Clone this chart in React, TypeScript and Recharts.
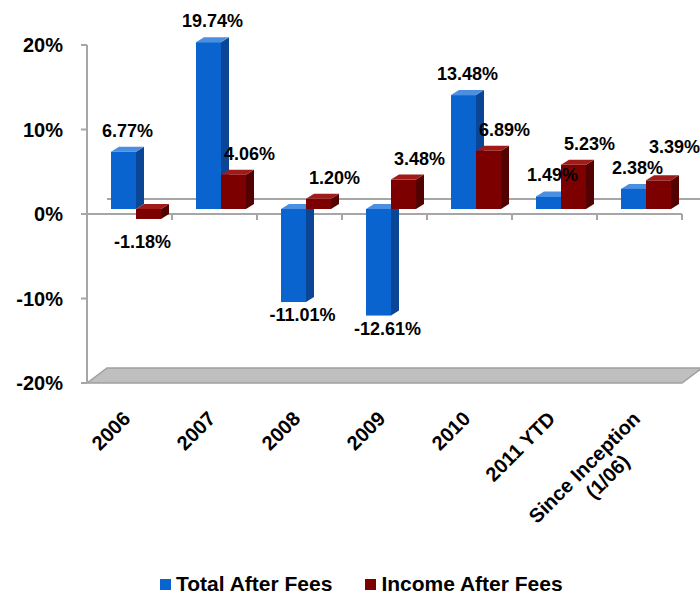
import { BarChart, Bar, XAxis, YAxis, ReferenceArea, LabelList, Legend } from "recharts";

const categories = ["2006", "2007", "2008", "2009", "2010", "2011 YTD", "Since Inception\n(1/06)"];
const totalAfterFees = [6.77, 19.74, -11.01, -12.61, 13.48, 1.49, 2.38];
const incomeAfterFees = [-1.18, 4.06, 1.2, 3.48, 6.89, 5.23, 3.39];
const yTicks = [-20, -10, 0, 10, 20];

const data = categories.map((name, i) => ({
  name,
  total: totalAfterFees[i],
  income: incomeAfterFees[i],
}));

const FONT = "'Liberation Sans', Arial, sans-serif";
const GRID = "#a6a6a6";

// depth of the box and the offset of the bar row inside it
const DEPTH_X = 20;
const DEPTH_Y = -15;
const BAR_DX = 6;
const BAR_DY = -5;
const SIDE_X = 8;
const SIDE_Y = -5;
const LABEL_UP = 20;

const BLUE = { front: "#0a64d0", top: "#4a8fe2", side: "#0a4596" };
const RED = { front: "#7d0000", top: "#a11b1b", side: "#520000" };

function makeBar3D(c: { front: string; top: string; side: string }) {
  return (props: any) => {
    const { x, y, width, height } = props;
    if (x == null || y == null) return null;
    const top = Math.min(y, y + height) + BAR_DY;
    const h = Math.abs(height);
    const left = x + BAR_DX;
    const right = left + width;
    const bottom = top + h;
    return (
      <g>
        <polygon
          points={`${right},${top} ${right + SIDE_X},${top + SIDE_Y} ${right + SIDE_X},${bottom + SIDE_Y} ${right},${bottom}`}
          fill={c.side}
        />
        <polygon
          points={`${left},${top} ${left + SIDE_X},${top + SIDE_Y} ${right + SIDE_X},${top + SIDE_Y} ${right},${top}`}
          fill={c.top}
        />
        <rect x={left} y={top} width={width} height={h} fill={c.front} />
      </g>
    );
  };
}

// floor, back-wall zero line and the front zero line with category ticks
function Frame(props: any) {
  const { x, y, width, height } = props;
  if (x == null) return null;
  const floorY = y + height;
  const n = categories.length;
  const ticks = [];
  for (let i = 1; i <= n; i++) {
    const tx = x + (i * width) / n;
    ticks.push(<line key={i} x1={tx} y1={y} x2={tx} y2={y + 6} stroke={GRID} strokeWidth={2} />);
  }
  return (
    <g>
      <polygon
        points={`${x},${floorY} ${x + DEPTH_X},${floorY + DEPTH_Y} ${x + width + DEPTH_X},${floorY + DEPTH_Y} ${x + width},${floorY}`}
        fill="#bfbfbf"
        stroke="#a0a0a0"
        strokeWidth={1.5}
      />
      <line x1={x + DEPTH_X} y1={y + DEPTH_Y} x2={x + width + DEPTH_X} y2={y + DEPTH_Y} stroke={GRID} strokeWidth={2} />
      <line x1={x} y1={y} x2={x + width} y2={y} stroke={GRID} strokeWidth={2} />
      {ticks}
    </g>
  );
}

function labelText(cx: number, ty: number, v: number) {
  return (
    <text x={cx} y={ty} textAnchor="middle" fontFamily={FONT} fontWeight="bold" fontSize={18} fill="#000">
      {`${v.toFixed(2)}%`}
    </text>
  );
}

function TotalLabel(props: any) {
  const { x, y, width, height, value } = props;
  const v = Number(value);
  const top = Math.min(y, y + height);
  const bottom = Math.max(y, y + height);
  return v >= 0 ? labelText(x + width / 2 + 10, top - LABEL_UP, v) : labelText(x + width / 2 + 15, bottom + 14, v);
}

// income labels step up when they would sit on top of the total label of the same year
function IncomeLabel(props: any) {
  const { x, y, width, height, value, index } = props;
  const v = Number(value);
  const top = Math.min(y, y + height);
  const bottom = Math.max(y, y + height);
  if (v < 0) return labelText(x + width / 2, bottom + 24, v);
  let ty = top - LABEL_UP;
  const other = totalAfterFees[index];
  if (other > 0 && v !== 0) {
    const perUnit = Math.abs(height) / Math.abs(v);
    const zeroY = Math.max(y, y + height);
    const otherTy = zeroY - other * perUnit - LABEL_UP;
    if (Math.abs(otherTy - ty) < 18) ty = otherTy - 21;
  }
  return labelText(x + width / 2 + 22, ty, v);
}

function CategoryTick(props: any) {
  const { x, y, payload } = props;
  const lines = String(payload.value).split("\n");
  return (
    <g transform={`translate(${x + 2},${y + 37}) rotate(-45)`}>
      {lines.map((ln, i) => (
        <text
          key={i}
          x={i === 0 ? 0 : -38}
          y={i * 23}
          textAnchor="end"
          fontFamily={FONT}
          fontWeight="bold"
          fontSize={20}
          fill="#000"
        >
          {ln}
        </text>
      ))}
    </g>
  );
}

function LegendBox() {
  const items = [
    { label: "Total After Fees", color: BLUE.front },
    { label: "Income After Fees", color: RED.front },
  ];
  return (
    <div style={{ display: "flex", alignItems: "center", fontFamily: FONT, fontWeight: "bold", fontSize: 21 }}>
      {items.map((it) => (
        <div key={it.label} style={{ display: "flex", alignItems: "center", marginRight: 33 }}>
          <span style={{ width: 11, height: 11, background: it.color, display: "inline-block", marginRight: 5 }} />
          <span>{it.label}</span>
        </div>
      ))}
    </div>
  );
}

export default function App() {
  return (
    <div style={{ position: "absolute", left: 0, top: 0, background: "#fff" }}>
      <BarChart
        width={700}
        height={595}
        data={data}
        margin={{ top: 45, right: 18, left: 0, bottom: 62 }}
        barCategoryGap={18}
        barGap={0}
      >
        <ReferenceArea y1={-20} y2={0} shape={<Frame />} />
        <XAxis
          dataKey="name"
          interval={0}
          axisLine={false}
          tickLine={false}
          tickSize={0}
          tickMargin={0}
          height={150}
          tick={<CategoryTick />}
        />
        <YAxis
          domain={[-20, 20]}
          ticks={yTicks}
          width={87}
          tickFormatter={(v: number) => `${v}%`}
          axisLine={{ stroke: GRID, strokeWidth: 2 }}
          tickLine={{ stroke: GRID, strokeWidth: 2 }}
          tickSize={6}
          tickMargin={18}
          tick={{ fill: "#000", fontFamily: FONT, fontWeight: "bold", fontSize: 20 }}
        />
        <Bar dataKey="total" name="Total After Fees" fill={BLUE.front} shape={makeBar3D(BLUE)} isAnimationActive={false}>
          <LabelList dataKey="total" content={<TotalLabel />} />
        </Bar>
        <Bar dataKey="income" name="Income After Fees" fill={RED.front} shape={makeBar3D(RED)} isAnimationActive={false}>
          <LabelList dataKey="income" content={<IncomeLabel />} />
        </Bar>
        <Legend
          verticalAlign="middle"
          content={<LegendBox />}
          wrapperStyle={{ top: 572, left: 160, width: 520, height: 26 }}
        />
      </BarChart>
    </div>
  );
}
